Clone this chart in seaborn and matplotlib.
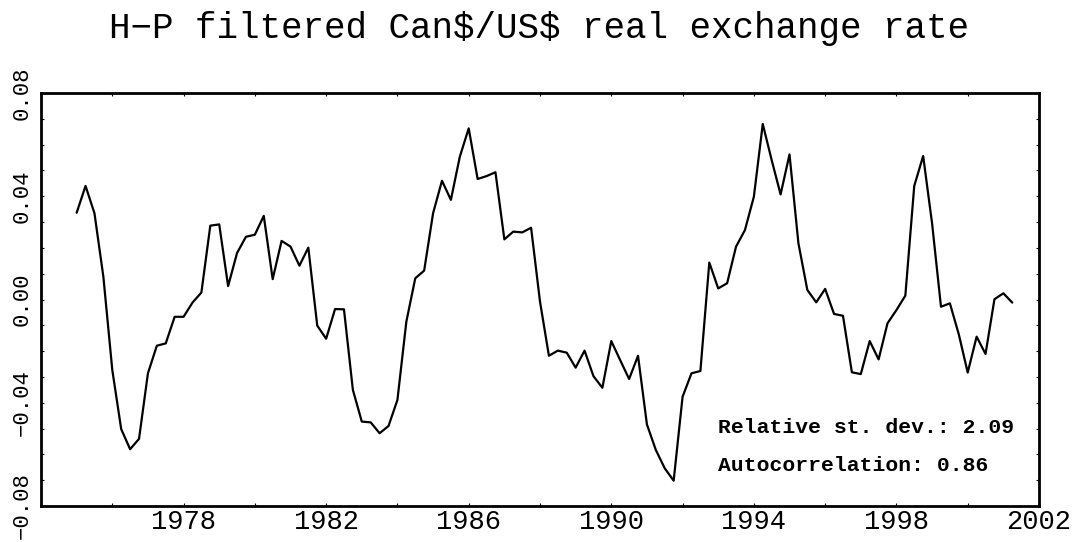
import numpy as np
import pandas as pd
import matplotlib
matplotlib.use("Agg")
import matplotlib.pyplot as plt
import seaborn as sns
from matplotlib.ticker import FixedLocator, MultipleLocator

# ---- data (quarterly, 1975Q1 onwards) ----
start_year = 1975
rer_cycle = [
    0.0336, 0.0440, 0.0334, 0.0088, -0.0273, -0.0502, -0.0580, -0.0540,
    -0.0286, -0.0179, -0.0170, -0.0067, -0.0067, -0.0012, 0.0027, 0.0286,
    0.0291, 0.0052, 0.0180, 0.0243, 0.0251, 0.0324, 0.0079, 0.0227,
    0.0205, 0.0131, 0.0201, -0.0101, -0.0152, -0.0037, -0.0038, -0.0350,
    -0.0473, -0.0476, -0.0518, -0.0490, -0.0389, -0.0086, 0.0082, 0.0112,
    0.0334, 0.0460, 0.0386, 0.0553, 0.0663, 0.0467, 0.0478, 0.0493,
    0.0233, 0.0263, 0.0260, 0.0278, -0.0008, -0.0218, -0.0198, -0.0206,
    -0.0264, -0.0198, -0.0297, -0.0342, -0.0161, -0.0235, -0.0308, -0.0218,
    -0.0484, -0.0583, -0.0654, -0.0702, -0.0377, -0.0286, -0.0277, 0.0143,
    0.0043, 0.0063, 0.0205, 0.0269, 0.0398, 0.0680, 0.0540, 0.0407,
    0.0562, 0.0218, 0.0037, -0.0011, 0.0041, -0.0056, -0.0063, -0.0282,
    -0.0289, -0.0161, -0.0232, -0.0092, -0.0041, 0.0015, 0.0440, 0.0556,
    0.0295, -0.0028, -0.0015, -0.0135, -0.0283, -0.0144, -0.0211, 0.0001,
    0.0024, -0.0012,
]
x_tick_values = [1978, 1982, 1986, 1990, 1994, 1998, 2002]
x_tick_labels = ["1978", "1982", "1986", "1990", "1994", "1998", "2002"]
y_tick_values = [-0.08, -0.04, 0.00, 0.04, 0.08]
y_tick_labels = ["\u22120.08", "\u22120.04", "0.00", "0.04", "0.08"]
title_text = "H\u2212P filtered Can\\$/US\\$ real exchange rate"
stat_lines = ["Relative st. dev.: 2.09", "Autocorrelation: 0.86"]

periods = pd.period_range(f"{start_year}Q1", periods=len(rer_cycle), freq="Q")
df = pd.DataFrame({
    "date": periods.year + (periods.quarter - 1) / 4.0,
    "rer": rer_cycle,
})

# ---- style ----
sns.set_style("ticks")
plt.rcParams["font.family"] = ["Liberation Mono", "DejaVu Sans Mono"]

fig = plt.figure(figsize=(10.77, 5.42), dpi=100)
ax = fig.add_axes([41 / 1077, 1 - 506 / 542, (1039 - 41) / 1077, (506 - 93) / 542])

sns.lineplot(data=df, x="date", y="rer", ax=ax, color="black", linewidth=1.6)

ax.set_xlim(1974, 2002)
ax.set_ylim(-0.08, 0.08)
ax.xaxis.set_major_locator(FixedLocator(x_tick_values))
ax.set_xticklabels(x_tick_labels)
ax.xaxis.set_minor_locator(MultipleLocator(2))
ax.yaxis.set_major_locator(FixedLocator(y_tick_values))
ax.set_yticklabels(y_tick_labels, rotation=90, va="center")
ax.yaxis.set_minor_locator(MultipleLocator(0.01))
ax.set_xlabel("")
ax.set_ylabel("")

for side in ["top", "bottom", "left", "right"]:
    ax.spines[side].set_visible(True)
    ax.spines[side].set_linewidth(2.0)
    ax.spines[side].set_color("black")

ax.tick_params(which="both", direction="in", top=True, right=True,
               length=2.5, width=0.8, color="black")
ax.tick_params(axis="x", which="major", labelsize=19.5, pad=2, labelcolor="black")
ax.tick_params(axis="y", which="major", labelsize=16, pad=6, labelcolor="black")

fig.text(539 / 1077, 1 - 28 / 542, title_text, ha="center", va="center",
         fontsize=25.8, color="black")

ax.text(0.678, 0.189, stat_lines[0], transform=ax.transAxes, ha="left",
        va="center", fontsize=15.4, fontweight="bold", color="black")
ax.text(0.678, 0.099, stat_lines[1], transform=ax.transAxes, ha="left",
        va="center", fontsize=15.4, fontweight="bold", color="black")

fig.savefig("out.png", dpi=100)
